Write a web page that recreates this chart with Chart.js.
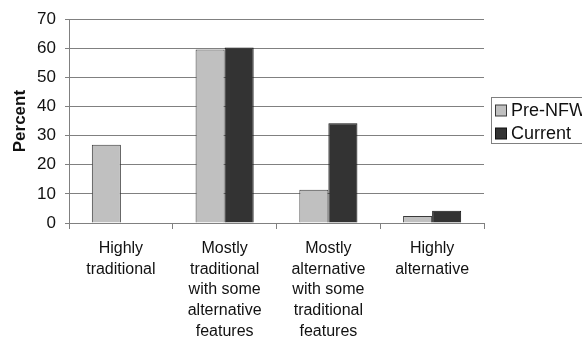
<!DOCTYPE html>
<html>
<head>
<meta charset="utf-8">
<script src="https://cdn.jsdelivr.net/npm/chart.js@4.4.1/dist/chart.umd.min.js"></script>
<style>
  html, body { margin: 0; padding: 0; background: #fff; overflow: hidden; }
  #wrap { width: 582px; height: 339px; }
</style>
</head>
<body>
<div id="wrap"><canvas id="c" width="582" height="339"></canvas></div>
<script>
// Categories of schedule type and the share (%) in each period
const categories = [
  ["Highly", "traditional"],
  ["Mostly", "traditional", "with some", "alternative", "features"],
  ["Mostly", "alternative", "with some", "traditional", "features"],
  ["Highly", "alternative"]
];
const seriesNames = ["Pre-NFW", "Current"];
const preNFW = [26.9, 59.6, 11.4, 2.4];
const current = [0, 60.3, 34.3, 4.2];
const yTicks = [0, 10, 20, 30, 40, 50, 60, 70];

const fillColors = ["#c0c0c0", "#333333"];
const edgeColors = ["#3a3a3a", "#111111"];
const fontFamily = "'Liberation Sans', Arial, sans-serif";

// Boxed legend at the right edge, drawn by hand
const boxLegend = {
  id: "boxLegend",
  afterDraw(chart) {
    const ctx = chart.ctx;
    ctx.save();
    ctx.strokeStyle = "#808080";
    ctx.lineWidth = 1;
    ctx.strokeRect(491.5, 97.5, 120, 46);
    ctx.font = "18px " + fontFamily;
    ctx.textBaseline = "middle";
    seriesNames.forEach((name, i) => {
      const cy = 110.5 + i * 23;
      ctx.fillStyle = fillColors[i];
      ctx.fillRect(495.5, cy - 5.5, 11, 11);
      ctx.strokeStyle = edgeColors[i];
      ctx.strokeRect(495.5, cy - 5.5, 11, 11);
      ctx.fillStyle = "#111";
      ctx.fillText(name, 511, cy + 1);
    });
    ctx.restore();
  }
};

new Chart(document.getElementById("c"), {
  type: "bar",
  data: {
    labels: categories,
    datasets: [
      { label: seriesNames[0], data: preNFW, backgroundColor: fillColors[0], borderColor: edgeColors[0], borderWidth: 1 },
      { label: seriesNames[1], data: current, backgroundColor: fillColors[1], borderColor: edgeColors[1], borderWidth: 1 }
    ]
  },
  options: {
    responsive: false,
    animation: false,
    layout: { padding: { top: 19, right: 98, left: 0, bottom: 0 } },
    datasets: { bar: { categoryPercentage: 0.56, barPercentage: 1.0 } },
    plugins: { legend: { display: false }, tooltip: { enabled: false } },
    scales: {
      x: {
        afterFit(scale) { scale.height = 116; },
        border: { color: "#808080", width: 1 },
        grid: { offset: true, drawOnChartArea: false, drawTicks: true, tickLength: 6, color: "#808080" },
        ticks: {
          color: "#111",
          font: { family: fontFamily, size: 16, lineHeight: 1.3 },
          padding: 9,
          maxRotation: 0,
          autoSkip: false
        }
      },
      y: {
        min: 0,
        max: 70,
        afterFit(scale) { scale.width = 69; },
        afterBuildTicks(scale) { scale.ticks = yTicks.map(v => ({ value: v })); },
        border: { color: "#808080", width: 1 },
        grid: { color: "#808080", lineWidth: 1, tickLength: 4 },
        ticks: {
          color: "#111",
          font: { family: fontFamily, size: 17 },
          padding: 9
        },
        title: {
          display: true,
          text: "Percent",
          color: "#111",
          font: { family: fontFamily, size: 17, weight: "bold" },
          padding: { top: 10, bottom: 2 }
        }
      }
    }
  },
  plugins: [boxLegend]
});
</script>
</body>
</html>
